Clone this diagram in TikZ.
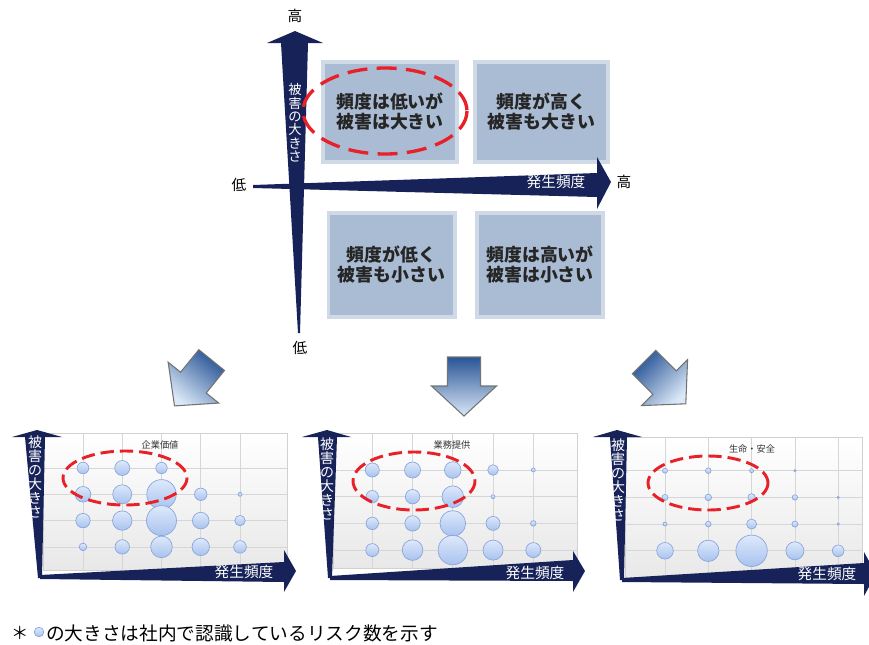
\documentclass[tikz,border=0pt]{standalone}
\usepackage{fontspec}
\newfontfamily\jp{Noto Sans CJK JP}
\definecolor{navy}{RGB}{22,34,88}
\definecolor{quadblue}{RGB}{170,188,211}
\definecolor{riskred}{RGB}{232,32,40}
\definecolor{arrowdark}{RGB}{40,84,150}
\definecolor{arrowlight}{RGB}{218,232,247}
\definecolor{bubbletop}{RGB}{222,233,251}
\definecolor{bubblebot}{RGB}{168,194,238}
\definecolor{bubbleedge}{RGB}{136,164,218}
\tikzset{
  axis/.style={fill=navy},
  quad/.style={fill=quadblue, draw=quadblue!55, line width=2.5pt, align=center,
    text=black!85, font=\jp\bfseries\fontsize{13.4}{15}\selectfont},
  bigdash/.style={draw=riskred, line width=2.5pt, dash pattern=on 15pt off 7pt},
  smalldash/.style={draw=riskred, line width=2.2pt, dash pattern=on 10pt off 4.5pt},
  blockarrow/.style={top color=arrowdark, bottom color=arrowlight, draw=black!55, line width=0.8pt},
  chartbg/.style={top color=white, bottom color=black!9, draw=black!18, line width=0.5pt},
  grid/.style={draw=black!16, line width=0.5pt},
  bubble/.style={top color=bubbletop, bottom color=bubblebot, draw=bubbleedge, line width=0.5pt},
  axislabel/.style={font=\jp\fontsize{11}{11}\selectfont},
  tatetext/.style={text=white, align=center, inner sep=0pt},
  yokotext/.style={text=white, inner sep=0pt},
  charttitle/.style={font=\jp\fontsize{6.9}{7}\selectfont, text=black!80}
}

\begin{document}
\begin{tikzpicture}[x=0.75pt,y=-0.75pt]
\clip (0,0) rectangle (869,644);

        % top matrix
        \begin{scope}
          \node[quad, minimum width=100.5pt, minimum height=75pt] (tl) at (390,112)   {頻度は低いが\\被害は大きい};
          \node[quad, minimum width=99.8pt,  minimum height=75pt] (tr) at (541.5,112) {頻度が高く\\被害も大きい};
          \node[quad, minimum width=95pt,    minimum height=78pt] (bl) at (391.5,265) {頻度が低く\\被害も小さい};
          \node[quad, minimum width=94.5pt,  minimum height=78pt] (br) at (540,265)   {頻度は高いが\\被害は小さい};
        \end{scope}

        \fill[axis] (298,333) -- (281,43) -- (267,43) -- (295,31) -- (323,43) -- (308,43) -- (300,333) -- cycle;
        \fill[axis] (253,185) -- (597,173) -- (597,157) -- (611,182) -- (597,209) -- (597,197) -- (253,188) -- cycle;

        \begin{scope}[every node/.style={axislabel}]
          \node (yhigh) at (295,16)  {高};
          \node (ylow)  at (300,348) {低};
          \node (xlow)  at (239,185) {低};
          \node (xhigh) at (624,182) {高};
        \end{scope}
        \node[tatetext, font=\jp\fontsize{10}{10}\selectfont] (ytext) at (295,123) {被\\害\\の\\大\\き\\さ};
        \node[yokotext, font=\jp\fontsize{11}{11}\selectfont] (xtext) at (556,182) {発生頻度};

        \draw[bigdash] (385,111) ellipse [x radius=82, y radius=43];

        % block arrows
        \foreach \px/\py/\rot in {193.4/382.6/-39, 464/386/0, 664.6/382.6/45} {
          \begin{scope}[shift={(\px,\py)}, rotate=\rot]
            \shade[blockarrow, shading angle=\rot] (-16.5,-29) -- (16.5,-29) -- (16.5,0) -- (32.5,0) -- (0,30) -- (-32.5,0) -- (-16.5,0) -- cycle;
          \end{scope}
        }

        % chart 1
        \shade[chartbg] (43,433) rectangle (287,570);
        \begin{scope}[shift={(83,468)}]
          \foreach \r in {0,...,3} \draw[grid] (-40,\r*26.3) -- (204,\r*26.3);
          \foreach \c in {0,...,4} \draw[grid] (\c*39.25,-35) -- (\c*39.25,102);
          \foreach \c/\r/\s in {1/1/5.8, 2/1/7.5, 3/1/5.7,
                                1/2/7.8, 2/2/9.5, 3/2/14.7, 4/2/6.2, 5/2/2,
                                1/3/7.2, 2/3/9.7, 3/3/15, 4/3/8.3, 5/3/5.2,
                                1/4/3.8, 2/4/7.2, 3/4/10.8, 4/4/8.7, 5/4/6.3}
            \shade[bubble] ({(\c-1)*39.25},{(\r-1)*26.3}) circle [radius=\s];
        \end{scope}
        \node[charttitle] (title1) at (160,445) {企業価値};
        \draw[smalldash] (125,478) ellipse [x radius=62, y radius=27];
        \fill[axis] (38,578) -- (25,437) -- (12,437) -- (37,430) -- (62,437) -- (45,437) -- (42,578) -- cycle;
        \fill[axis] (40,575) -- (284,562) -- (284,550) -- (296,571) -- (284,592) -- (284,582) -- (40,579) -- cycle;
        \node[tatetext, font=\jp\fontsize{10.5}{10.5}\selectfont] (ytext1) at (35,477) {被\\害\\の\\大\\き\\さ};
        \node[yokotext, font=\jp\fontsize{11}{11}\selectfont] (xtext1) at (244,572) {発生頻度};

        % chart 2
        \shade[chartbg] (333,433) rectangle (577,568);
        \begin{scope}[shift={(372.3,470)}]
          \foreach \r in {0,...,3} \draw[grid] (-39,\r*26.7) -- (205,\r*26.7);
          \foreach \c in {0,...,4} \draw[grid] (\c*40.25,-37) -- (\c*40.25,98);
          \foreach \c/\r/\s in {1/1/7, 2/1/8, 3/1/8.3, 4/1/5.3, 5/1/2,
                                1/2/6.2, 2/2/7.2, 3/2/10.8, 4/2/2,
                                1/3/6.2, 2/3/7.7, 3/3/12.8, 4/3/7, 5/3/2.8,
                                1/4/6.5, 2/4/10.3, 3/4/14.7, 4/4/10, 5/4/7.5}
            \shade[bubble] ({(\c-1)*40.25},{(\r-1)*26.7}) circle [radius=\s];
        \end{scope}
        \node[charttitle] (title2) at (452,445) {業務提供};
        \draw[smalldash] (414,481) ellipse [x radius=61, y radius=29];
        \fill[axis] (328,578) -- (318,437) -- (302,437) -- (327,430) -- (351,437) -- (337,437) -- (332,578) -- cycle;
        \fill[axis] (330,576) -- (573,560) -- (573,551) -- (585,571) -- (573,592) -- (573,581) -- (330,580) -- cycle;
        \node[tatetext, font=\jp\fontsize{10.5}{10.5}\selectfont] (ytext2) at (327,479) {被\\害\\の\\大\\き\\さ};
        \node[yokotext, font=\jp\fontsize{11}{11}\selectfont] (xtext2) at (535,573) {発生頻度};

        % chart 3
        \shade[chartbg] (625,437) rectangle (862,580);
        \begin{scope}[shift={(665,470.7)}]
          \foreach \r in {0,...,3} \draw[grid] (-40,\r*26.7) -- (197,\r*26.7);
          \foreach \c in {0,...,4} \draw[grid] (\c*43.3,-34) -- (\c*43.3,109);
          \foreach \c/\r/\s in {1/1/2.5, 2/1/2.8, 3/1/2, 4/1/1.2,
                                1/2/3, 2/2/3.3, 3/2/3.7, 4/2/2.7, 5/2/1.2,
                                1/3/2, 2/3/2.8, 3/3/5, 4/3/3, 5/3/1.2,
                                1/4/8.3, 2/4/10.7, 3/4/15.7, 4/4/9, 5/4/5.8}
            \shade[bubble] ({(\c-1)*43.3},{(\r-1)*26.7}) circle [radius=\s];
        \end{scope}
        \node[charttitle] (title3) at (752,449) {生命・安全};
        \draw[smalldash] (708,483) ellipse [x radius=60, y radius=27];
        \fill[axis] (620,580) -- (610,437) -- (593,437) -- (617,430) -- (642,437) -- (627,437) -- (624,580) -- cycle;
        \fill[axis] (622,578) -- (864,563) -- (864,552) -- (876,574) -- (864,596) -- (864,584) -- (622,582) -- cycle;
        \node[tatetext, font=\jp\fontsize{10.5}{10.5}\selectfont] (ytext3) at (618,480) {被\\害\\の\\大\\き\\さ};
        \node[yokotext, font=\jp\fontsize{11}{11}\selectfont] (xtext3) at (827,574) {発生頻度};

        % note
        \node[font=\jp\fontsize{13}{13}\selectfont, inner sep=0pt] (star) at (20,633) {＊};
        \shade[bubble] (39,632) circle [radius=4.8];
        \node[font=\jp\fontsize{14}{14}\selectfont, anchor=west, inner sep=0pt] (note) at (46,633) {の大きさは社内で認識しているリスク数を示す};

      \end{tikzpicture}
\end{document}
